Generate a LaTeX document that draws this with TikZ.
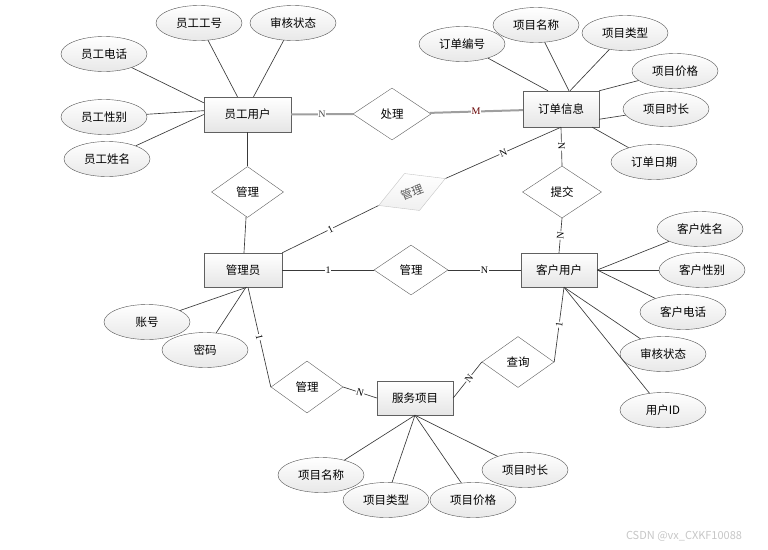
\documentclass[tikz,border=0pt]{standalone}
\usepackage{fontspec}
\setmainfont{Noto Sans CJK SC}
\newfontfamily\cardfont{Liberation Serif}
\usepackage{tikz}
\usetikzlibrary{shapes.geometric}
\usepackage{xcolor}

\begin{document}
\begin{tikzpicture}[x=1pt,y=-1pt,font=\fontsize{11.5}{12}\selectfont,
            entity/.style={draw=gray!75!black,rectangle,minimum width=76pt,minimum height=34pt,inner sep=0pt,top color=white,bottom color=gray!20},
            attr/.style={draw=gray!65!black,ellipse,minimum width=86pt,minimum height=35pt,inner sep=0pt,top color=white,bottom color=gray!18},
            rel/.style={draw=gray!75!black,diamond,fill=white,inner sep=0pt,minimum width=72pt,minimum height=51pt},
            link/.style={draw=gray!45!black,line width=0.65pt},
            boldlink/.style={draw=gray!75,line width=2pt},
            card/.style={font=\cardfont\fontsize{10}{10}\selectfont,fill=white,inner sep=0.6pt}]
            \useasboundingbox (0,0) rectangle (768,549);
            \node[entity,minimum width=87pt,minimum height=35pt] (staff) at (247.5,114.5) {员工用户};
            \node[entity,minimum width=78pt] (admin) at (243,270) {管理员};
            \node[entity,minimum height=36pt] (order) at (561,109) {订单信息};
            \node[entity] (client) at (559,270) {客户用户};
            \node[entity] (service) at (415,398) {服务项目};

            \node[attr] (staffNo) at (199,23) {员工工号};
            \node[attr] (staffState) at (293,23) {审核状态};
            \node[attr] (staffTel) at (104,54) {员工电话};
            \node[attr] (staffSex) at (104,117) {员工性别};
            \node[attr] (staffName) at (107,159) {员工姓名};

            \node[attr] (orderNo) at (462,44) {订单编号};
            \node[attr] (orderItem) at (536,25) {项目名称};
            \node[attr] (orderType) at (625,33) {项目类型};
            \node[attr] (orderPrice) at (675,71) {项目价格};
            \node[attr] (orderTime) at (666,109) {项目时长};
            \node[attr] (orderDate) at (654,162) {订单日期};

            \node[attr] (clientName) at (700,229) {客户姓名};
            \node[attr] (clientSex) at (702,270) {客户性别};
            \node[attr] (clientTel) at (683,312) {客户电话};
            \node[attr] (clientState) at (663,354) {审核状态};
            \node[attr] (clientId) at (663,410) {用户ID};

            \node[attr] (account) at (147,322) {账号};
            \node[attr] (password) at (205,350) {密码};

            \node[attr] (itemName) at (321,475) {项目名称};
            \node[attr] (itemType) at (386,500) {项目类型};
            \node[attr] (itemPrice) at (473,500) {项目价格};
            \node[attr] (itemTime) at (525,470) {项目时长};

            \node[rel,minimum width=78pt,minimum height=52pt] (handle) at (392,114) {处理};
            \node[rel] (manageStaff) at (247.5,192) {管理};
            \node[rel,draw=gray!45,top color=white,bottom color=gray!12,text=gray!70!black,rotate=22,minimum width=72pt,minimum height=40pt] (manageOrder) at (412,192) {管理};
            \node[rel,minimum width=74pt,minimum height=50pt] (manageClient) at (411,270) {管理};
            \node[rel,minimum width=79pt,minimum height=52pt] (submit) at (562,192) {提交};
            \node[rel] (query) at (518,362) {查询};
            \node[rel,minimum height=52pt] (manageService) at (307,387) {管理};

            \node[text=gray!45,font=\fontsize{11}{12}\selectfont] (mark) at (684,536) {CSDN @vx\_CXKF10088};

            \draw[link] (staffNo) -- ([xshift=-10pt]staff.north);
            \draw[link] (staffState) -- ([xshift=6pt]staff.north);
            \draw[link] (staffTel) -- (staff.165);
            \draw[link] (staffSex) -- (staff.175);
            \draw[link] (staffName) -- (staff.west);

            \draw[link] (orderNo) -- ([xshift=-13pt]order.north);
            \draw[link] (orderItem) -- ([xshift=8pt]order.north);
            \draw[link] (orderType) -- ([xshift=9pt]order.north);
            \draw[link] (orderPrice) -- (order.north east);
            \draw[link] (orderTime) -- (order.-15);
            \draw[link] (orderDate) -- ([xshift=-7pt]order.south east);

            \draw[link] (clientName) -- (client.east);
            \draw[link] (clientSex) -- (client.east);
            \draw[link] (clientTel) -- (client.east);
            \draw[link] (clientState) -- ([xshift=5pt]client.south);
            \draw[link] (clientId) -- ([xshift=5pt]client.south);

            \draw[link] (account) -- ([xshift=4pt]admin.south);
            \draw[link] (password) -- ([xshift=3pt]admin.south);

            \draw[link] (itemName) -- (service.south);
            \draw[link] (itemType) -- (service.south);
            \draw[link] (itemPrice) -- (service.south);
            \draw[link] (itemTime) -- (service.south);

            \draw[boldlink] (staff) -- node[card,text=gray!60!black] {N} (handle);
            \draw[boldlink] (handle) -- node[card,text=red!40!black] {M} (order);
            \draw[link] (staff) -- (manageStaff);
            \draw[link] (manageStaff) -- (admin);
            \draw[link] (admin.north east) -- node[card,sloped] {1} (manageOrder.west);
            \draw[link] (manageOrder.east) -- node[card,sloped] {N} (order.south);
            \draw[link] (admin) -- node[card] {1} (manageClient);
            \draw[link] (manageClient) -- node[card] {N} (client);
            \draw[link] (order.south) -- node[card,sloped] {N} (submit.north);
            \draw[link] (submit.south) -- node[card,sloped] {N} (client.north);
            \draw[link] ([xshift=5pt]client.south) -- node[card,sloped] {1} (query.east);
            \draw[link] (query.west) -- node[card,sloped,pos=0.45] {N} (service.east);
            \draw[link] ([xshift=5pt]admin.south) -- node[card,sloped] {1} (manageService.west);
            \draw[link] (manageService.east) -- node[card,sloped] {N} (service.west);
\end{tikzpicture}
\end{document}
